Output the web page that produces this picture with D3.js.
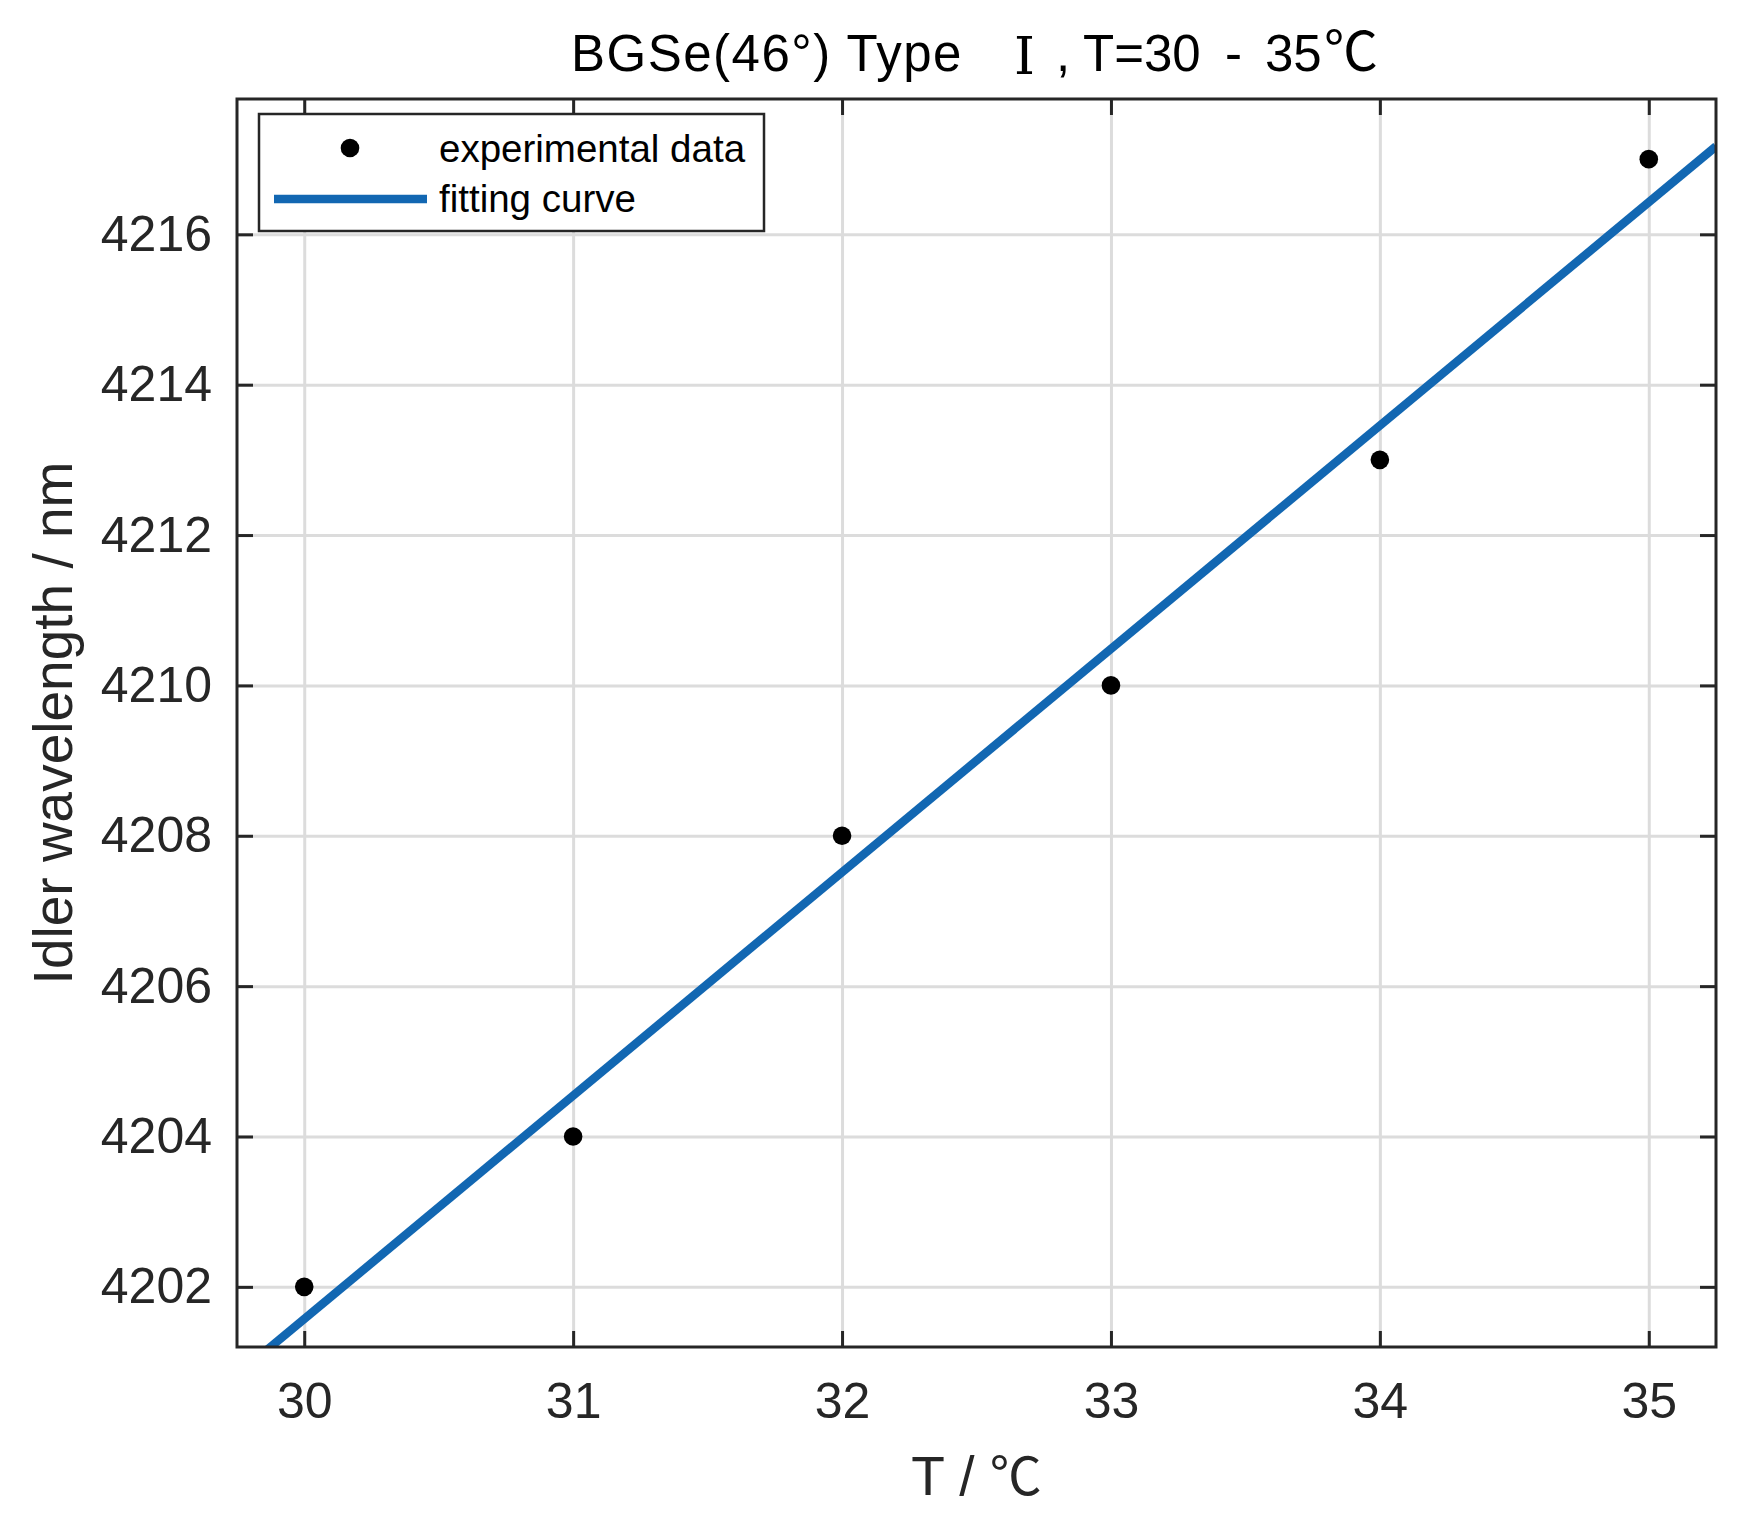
<!DOCTYPE html>
<html lang="en">
<head>
<meta charset="UTF-8">
<title>BGSe idler wavelength</title>
<script src="https://cdn.jsdelivr.net/npm/d3@7/dist/d3.min.js"></script>
<style>
  body { margin: 0; background: #fff; }
  text { font-family: "Liberation Sans", Arial, "Noto Sans CJK SC", sans-serif; fill: #262626; }
  .grid line { stroke: #dcdcdc; stroke-width: 3; }
  .grid path { display: none; }
  .axis path { display: none; }
  .axis line { stroke: #262626; stroke-width: 3; }
</style>
</head>
<body>
<script>
// measured data
var tempC   = [30, 31, 32, 33, 34, 35];
var idlerNm = [4202, 4204, 4208, 4210, 4213, 4217];
// fitted line, end points
var fitT  = [29.75, 35.25];
var fitNm = [4200.83, 4217.17];
// ticks
var xTicks = [30, 31, 32, 33, 34, 35];
var yTicks = [4202, 4204, 4206, 4208, 4210, 4212, 4214, 4216];

var width = 1745, height = 1525;
var margin = {top: 99, right: 29, bottom: 178, left: 237};
var w = width - margin.left - margin.right;
var h = height - margin.top - margin.bottom;

var svg = d3.select("body").append("svg").attr("width", width).attr("height", height);
var g = svg.append("g").attr("transform", "translate(" + margin.left + "," + margin.top + ")");

var x = d3.scaleLinear().domain([29.75, 35.25]).range([0, w]);
var y = d3.scaleLinear().domain([4201.2, 4217.8]).range([h, 0]);

// grid
g.append("g").attr("class", "grid").attr("transform", "translate(0," + h + ")")
  .call(d3.axisBottom(x).tickValues(xTicks).tickSize(-h).tickFormat(""));
g.append("g").attr("class", "grid")
  .call(d3.axisLeft(y).tickValues(yTicks).tickSize(-w).tickFormat(""));

// clip for the fit line
svg.append("defs").append("clipPath").attr("id", "plotclip")
  .append("rect").attr("width", w).attr("height", h);

var fitData = fitT.map(function(t, i){ return [t, fitNm[i]]; });
g.append("path").datum(fitData)
  .attr("clip-path", "url(#plotclip)")
  .attr("fill", "none").attr("stroke", "#1267b2").attr("stroke-width", 8.5)
  .attr("d", d3.line().x(function(d){ return x(d[0]); }).y(function(d){ return y(d[1]); }));

// points
g.selectAll("circle.pt").data(tempC).enter().append("circle")
  .attr("class", "pt")
  .attr("cx", function(d){ return x(d); })
  .attr("cy", function(d, i){ return y(idlerNm[i]); })
  .attr("r", 9.3).attr("fill", "#000");

// axes, ticks pointing inward
var fmt = d3.format("d");
var xAx = g.append("g").attr("class", "axis").attr("transform", "translate(0," + h + ")")
  .call(d3.axisBottom(x).tickValues(xTicks).tickFormat(fmt).tickSizeInner(-16).tickSizeOuter(0).tickPadding(35));
var yAx = g.append("g").attr("class", "axis")
  .call(d3.axisLeft(y).tickValues(yTicks).tickFormat(fmt).tickSizeInner(-16).tickSizeOuter(0).tickPadding(25));
g.append("g").attr("class", "axis")
  .call(d3.axisTop(x).tickValues(xTicks).tickSizeInner(-16).tickSizeOuter(0).tickFormat(""));
g.append("g").attr("class", "axis").attr("transform", "translate(" + w + ",0)")
  .call(d3.axisRight(y).tickValues(yTicks).tickSizeInner(-16).tickSizeOuter(0).tickFormat(""));
xAx.selectAll("text").attr("font-size", 50).style("font-family", "Liberation Sans").attr("fill", "#262626");
yAx.selectAll("text").attr("font-size", 50).style("font-family", "Liberation Sans").attr("fill", "#262626");

// frame
g.append("rect").attr("width", w).attr("height", h)
  .attr("fill", "none").attr("stroke", "#262626").attr("stroke-width", 3);

// legend
var lg = svg.append("g").attr("transform", "translate(259,114)");
lg.append("rect").attr("width", 505).attr("height", 117)
  .attr("fill", "#fff").attr("stroke", "#262626").attr("stroke-width", 2.5);
lg.append("circle").attr("cx", 91).attr("cy", 34).attr("r", 9.3).attr("fill", "#000");
lg.append("line").attr("x1", 15).attr("x2", 168).attr("y1", 85).attr("y2", 85)
  .attr("stroke", "#1267b2").attr("stroke-width", 8.5);
lg.append("text").attr("x", 180).attr("y", 48).attr("font-size", 38.5).style("fill", "#000").text("experimental data");
lg.append("text").attr("x", 180).attr("y", 98).attr("font-size", 38.5).style("fill", "#000").text("fitting curve");

// title, pieces placed like the original mixed-font rendering
var title = svg.append("text").attr("y", 71).attr("font-size", 51)
  .style("font-family", "Liberation Sans").style("fill", "#000");
title.append("tspan").attr("x", 571).attr("letter-spacing", 1.5).text("BGSe(46°) Type");
title.append("tspan").attr("x", 1014).attr("dy", 3).style("font-family", "DejaVu Serif")
  .attr("font-size", 53).text("Ⅰ");
title.append("tspan").attr("x", 1056).attr("dy", -3).text(",");
title.append("tspan").attr("x", 1083).text("T=30");
title.append("tspan").attr("x", 1225).text("-");
title.append("tspan").attr("x", 1265).text("35");
title.append("tspan").attr("x", 1324).style("font-family", "Noto Sans CJK SC")
  .attr("font-size", 54).text("℃");

// axis labels
var xl = svg.append("text").attr("x", margin.left + w / 2).attr("y", 1495).attr("text-anchor", "middle")
  .attr("font-size", 55);
xl.append("tspan").text("T / ");
xl.append("tspan").style("font-family", "Noto Sans CJK SC").attr("font-size", 52).text("℃");

svg.append("text").attr("transform", "translate(72," + (margin.top + h / 2) + ") rotate(-90)")
  .attr("text-anchor", "middle").attr("font-size", 55).text("Idler wavelength / nm");
</script>
</body>
</html>
